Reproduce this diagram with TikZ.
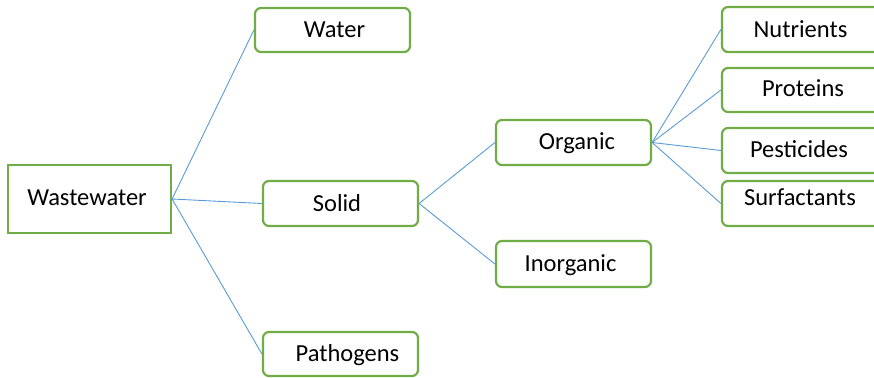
\documentclass[tikz,border=0pt]{standalone}
\usepackage{fontspec}
\setmainfont{Carlito}
\definecolor{boxgreen}{HTML}{70AD47}
\definecolor{linkblue}{HTML}{5B9BD5}
\tikzset{
  box/.style={draw=boxgreen, line width=2.2pt, rounded corners=6pt, fill=white, inner sep=0pt},
  sqbox/.style={draw=boxgreen, line width=2.2pt, fill=white, inner sep=0pt},
  lbl/.style={anchor=base, inner sep=0pt, font=\fontsize{24.5}{28}\selectfont},
  link/.style={draw=linkblue, line width=0.9pt}
}
\begin{document}
\begin{tikzpicture}[x=1pt,y=-1pt]
\useasboundingbox (0,0) rectangle (874,377);
\clip (0,0) rectangle (874,377);
% boxes
\node[sqbox, minimum width=163pt, minimum height=68pt] (ww) at (89.5,199) {};
\node[box, minimum width=155pt, minimum height=44pt] (water) at (332.5,30) {};
\node[box, minimum width=155pt, minimum height=45pt] (solid) at (340.5,203.5) {};
\node[box, minimum width=155pt, minimum height=44pt] (path) at (340.5,354) {};
\node[box, minimum width=155pt, minimum height=45pt] (org) at (573.5,142.5) {};
\node[box, minimum width=155pt, minimum height=46pt] (inorg) at (573.5,264) {};
\node[box, minimum width=165pt, minimum height=45pt] (nut) at (804.5,29.5) {};
\node[box, minimum width=165pt, minimum height=44pt] (prot) at (804.5,90) {};
\node[box, minimum width=165pt, minimum height=45pt] (pest) at (804.5,150.5) {};
\node[box, minimum width=165pt, minimum height=45pt] (surf) at (804.5,203.5) {};
% texts
\node[lbl] (tww) at (87,205.5) {Wastewater};
\node[lbl] (twater) at (334.5,37.5) {Water};
\node[lbl] (tsolid) at (337,211.5) {Solid};
\node[lbl] (tpath) at (347.5,361) {Pathogens};
\node[lbl] (torg) at (577,149.5) {Organic};
\node[lbl] (tinorg) at (570.5,271) {Inorganic};
\node[lbl] (tnut) at (800.5,37.5) {Nutrients};
\node[lbl] (tprot) at (803,97) {Proteins};
\node[lbl] (tpest) at (799,157.5) {Pesticides};
\node[lbl] (tsurf) at (800,205.5) {Surfactants};
% links
\draw[link] (ww.east) -- (water.west);
\draw[link] (ww.east) -- (solid.west);
\draw[link] (ww.east) -- (path.west);
\draw[link] (solid.east) -- (org.west);
\draw[link] (solid.east) -- (inorg.west);
\draw[link] (org.east) -- (nut.west);
\draw[link] (org.east) -- (prot.west);
\draw[link] (org.east) -- (pest.west);
\draw[link] (org.east) -- (surf.west);
\end{tikzpicture}
\end{document}
